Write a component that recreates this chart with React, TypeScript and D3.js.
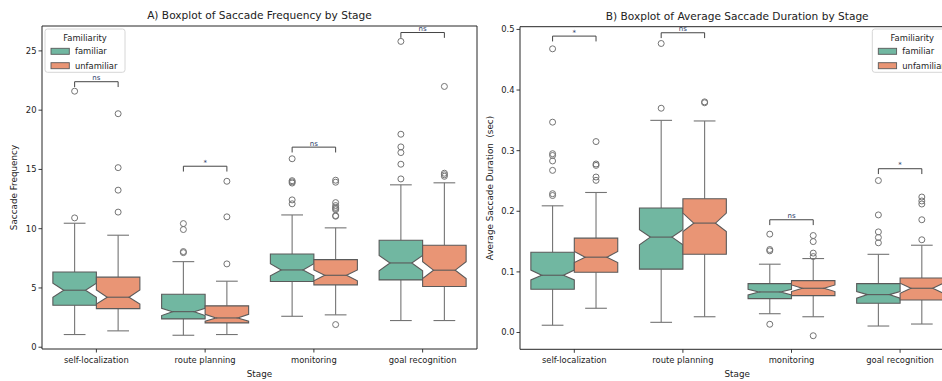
import React from 'react';
import * as d3 from 'd3';

const stages = ['self-localization', 'route planning', 'monitoring', 'goal recognition'];
const groups = ['familiar', 'unfamiliar'];
const groupColors = ['#71b7a1', '#e99575'];

// each box: [whiskerLow, q1, notchLow, median, notchHigh, q3, whiskerHigh]
const freqFamiliar = [
  [1.07, 3.54, 4.22, 4.81, 5.4, 6.35, 10.46],
  [1.01, 2.39, 2.67, 3.0, 3.29, 4.47, 7.22],
  [2.61, 5.54, 6.02, 6.52, 7.05, 7.87, 11.16],
  [2.25, 5.68, 6.45, 7.11, 7.75, 9.03, 13.7],
];
const freqUnfamiliar = [
  [1.38, 3.26, 3.65, 4.22, 4.83, 5.91, 9.45],
  [1.07, 2.05, 2.2, 2.47, 2.78, 3.49, 5.57],
  [2.73, 5.26, 5.6, 6.07, 6.52, 7.39, 10.07],
  [2.25, 5.12, 5.8, 6.5, 7.22, 8.6, 13.87],
];
const freqFamiliarOutliers = [
  [10.91, 21.6],
  [10.43, 9.93, 8.07, 7.98],
  [15.9, 14.05, 13.95, 13.85, 12.43, 12.1],
  [25.8, 17.97, 16.9, 16.42, 15.44, 14.2],
];
const freqUnfamiliarOutliers = [
  [19.7, 15.15, 13.25, 11.4],
  [14.0, 11.0, 7.03],
  [14.09, 13.92, 12.2, 11.95, 11.8, 11.7, 11.6, 11.1, 11.05, 1.91],
  [22.0, 14.68, 14.55, 14.42],
];
const freqBrackets = [22.4, 15.27, 16.88, 26.55];
const freqLabels = ['ns', '*', 'ns', 'ns'];
const freqTicks = [0, 5, 10, 15, 20, 25];

const durFamiliar = [
  [0.012, 0.0714, 0.0868, 0.0945, 0.103, 0.1325, 0.209],
  [0.0168, 0.1045, 0.1446, 0.1574, 0.1694, 0.2053, 0.35],
  [0.031, 0.0559, 0.062, 0.0669, 0.0714, 0.0807, 0.1127],
  [0.0107, 0.0483, 0.0565, 0.0625, 0.0675, 0.0807, 0.129],
];
const durUnfamiliar = [
  [0.04, 0.0995, 0.1154, 0.1243, 0.1336, 0.1557, 0.231],
  [0.026, 0.1292, 0.1667, 0.1805, 0.197, 0.2207, 0.349],
  [0.026, 0.0608, 0.0675, 0.073, 0.0785, 0.0856, 0.122],
  [0.014, 0.0537, 0.0648, 0.073, 0.0813, 0.09, 0.144],
];
const durFamiliarOutliers = [
  [0.468, 0.347, 0.295, 0.292, 0.283, 0.2675, 0.229, 0.226],
  [0.4768, 0.37],
  [0.1623, 0.1369, 0.1347, 0.0136],
  [0.2507, 0.194, 0.166, 0.1567, 0.148],
];
const durUnfamiliarOutliers = [
  [0.315, 0.278, 0.2757, 0.2565, 0.251],
  [0.3805, 0.379],
  [0.16, 0.15, 0.131, 0.1253, -0.0053],
  [0.2235, 0.217, 0.212, 0.186, 0.153],
];
const durBrackets = [0.489, 0.4945, 0.186, 0.2702];
const durLabels = ['*', 'ns', 'ns', '*'];
const durTicks = [0, 0.1, 0.2, 0.3, 0.4, 0.5];

const FONT = 'DejaVu Sans, sans-serif';
const BOX_LINE = '#5a5a5a';
const WHISK_LINE = '#747474';

type PanelProps = {
  left: number; right: number; top: number; bottom: number;
  domain: [number, number];
  ticks: number[]; tickFmt: (v: number) => string;
  boxes: number[][][]; outliers: number[][][];
  brackets: number[]; labels: string[]; legLen: number;
  title: string; yLabel: string; yLabelX: number;
  legendX: number; showRight: boolean;
};

const Panel = (p: PanelProps) => {
  const x = d3.scaleBand().domain(stages).range([p.left, p.right]).padding(0);
  const y = d3.scaleLinear().domain(p.domain).range([p.bottom, p.top]);
  const bw = x.bandwidth();
  const boxW = bw * 0.4;
  const centre = (s: string, g: number) => (x(s) as number) + bw / 2 + (g === 0 ? -0.2 : 0.2) * bw;

  return (
    <g>
      {stages.map((s, si) =>
        groups.map((g, gi) => {
          const [wl, q1, cl, med, ch, q3, wh] = p.boxes[gi][si];
          const cx = centre(s, gi);
          const l = cx - boxW / 2, r = cx + boxW / 2;
          const cl2 = cx - boxW / 4, cr2 = cx + boxW / 4;
          const pts: [number, number][] = [
            [l, y(q1)], [r, y(q1)], [r, y(cl)], [cr2, y(med)], [r, y(ch)], [r, y(q3)],
            [l, y(q3)], [l, y(ch)], [cl2, y(med)], [l, y(cl)],
          ];
          return (
            <g key={s + g}>
              <line x1={cx} x2={cx} y1={y(q1)} y2={y(wl)} stroke={WHISK_LINE} strokeWidth={1.1} />
              <line x1={cx} x2={cx} y1={y(q3)} y2={y(wh)} stroke={WHISK_LINE} strokeWidth={1.1} />
              <line x1={cl2} x2={cr2} y1={y(wl)} y2={y(wl)} stroke={WHISK_LINE} strokeWidth={1.1} />
              <line x1={cl2} x2={cr2} y1={y(wh)} y2={y(wh)} stroke={WHISK_LINE} strokeWidth={1.1} />
              <polygon points={pts.map(d => d.join(',')).join(' ')} fill={groupColors[gi]} stroke={BOX_LINE} strokeWidth={1.1} />
              <line x1={cl2} x2={cr2} y1={y(med)} y2={y(med)} stroke={BOX_LINE} strokeWidth={1.1} />
              {p.outliers[gi][si].map((v, k) => (
                <circle key={k} cx={cx} cy={y(v)} r={3} fill="none" stroke={WHISK_LINE} strokeWidth={1} />
              ))}
            </g>
          );
        })
      )}
      {stages.map((s, si) => {
        const a = centre(s, 0), b = centre(s, 1);
        const yy = y(p.brackets[si]);
        const yl = y(p.brackets[si] - p.legLen);
        return (
          <g key={'br' + s}>
            <path d={`M${a},${yl}V${yy}H${b}V${yl}`} fill="none" stroke="#444" strokeWidth={1} />
            <text x={(a + b) / 2} y={yy - 1.5} textAnchor="middle" fontSize={7} fill="#2a3a66" fontFamily={FONT}>{p.labels[si]}</text>
          </g>
        );
      })}
      {/* spines */}
      <path d={`M${p.left},${p.top}V${p.bottom}H${p.right}`} fill="none" stroke="#262626" strokeWidth={1} />
      <line x1={p.left} x2={p.right} y1={p.top} y2={p.top} stroke="#262626" strokeWidth={1} />
      {p.showRight && <line x1={p.right} x2={p.right} y1={p.top} y2={p.bottom} stroke="#262626" strokeWidth={1} />}
      {/* y ticks */}
      {p.ticks.map(t => (
        <g key={'yt' + t}>
          <line x1={p.left - 3.5} x2={p.left} y1={y(t)} y2={y(t)} stroke="#262626" strokeWidth={0.9} />
          <text x={p.left - 5.5} y={y(t)} dy="0.35em" textAnchor="end" fontSize={8.4} fill="#222" fontFamily={FONT}>{p.tickFmt(t)}</text>
        </g>
      ))}
      {/* x ticks */}
      {stages.map(s => {
        const cx = (x(s) as number) + bw / 2;
        return (
          <g key={'xt' + s}>
            <line x1={cx} x2={cx} y1={p.bottom} y2={p.bottom + 3.5} stroke="#262626" strokeWidth={0.9} />
            <text x={cx} y={p.bottom + 13.5} textAnchor="middle" fontSize={8.4} fill="#222" fontFamily={FONT}>{s}</text>
          </g>
        );
      })}
      <text x={(p.left + p.right) / 2} y={p.bottom + 28} textAnchor="middle" fontSize={8.8} fill="#222" fontFamily={FONT}>Stage</text>
      <text transform={`translate(${p.yLabelX},${(p.top + p.bottom) / 2}) rotate(-90)`} textAnchor="middle" fontSize={8.8} fill="#222" fontFamily={FONT} style={{ whiteSpace: 'pre' }}>{p.yLabel}</text>
      <text x={(p.left + p.right) / 2} y={p.top - 7} textAnchor="middle" fontSize={10.6} fill="#222" fontFamily={FONT}>{p.title}</text>
      {/* legend */}
      <g transform={`translate(${p.legendX},29)`}>
        <rect x={0} y={0} width={80} height={43.3} rx={2.5} fill="#fff" fillOpacity={0.85} stroke="#d6d6d6" strokeWidth={1} />
        <text x={40} y={9} dy="0.35em" textAnchor="middle" fontSize={8.4} fill="#222" fontFamily={FONT}>Familiarity</text>
        {groups.map((g, gi) => (
          <g key={'lg' + g} transform={`translate(0,${22.3 + gi * 14.4})`}>
            <rect x={6} y={-3} width={18.3} height={6} fill={groupColors[gi]} stroke={BOX_LINE} strokeWidth={0.9} />
            <text x={30} y={0} dy="0.35em" fontSize={8.4} fill="#222" fontFamily={FONT}>{g}</text>
          </g>
        ))}
      </g>
    </g>
  );
};

export default function App() {
  return (
    <svg width={942} height={381} style={{ position: 'absolute', left: 0, top: 0, background: '#fff' }}>
      <rect width={942} height={381} fill="#fff" />
      <Panel
        left={42} right={477} top={26} bottom={349}
        domain={[-0.15, 27.1]} ticks={freqTicks} tickFmt={v => String(v)}
        boxes={[freqFamiliar, freqUnfamiliar]} outliers={[freqFamiliarOutliers, freqUnfamiliarOutliers]}
        brackets={freqBrackets} labels={freqLabels} legLen={0.45}
        title="A) Boxplot of Saccade Frequency by Stage" yLabel="Saccade Frequency" yLabelX={17}
        legendX={45} showRight={true}
      />
      <Panel
        left={520} right={954.4} top={26.7} bottom={349.3}
        domain={[-0.0277, 0.5045]} ticks={durTicks} tickFmt={d3.format('.1f')}
        boxes={[durFamiliar, durUnfamiliar]} outliers={[durFamiliarOutliers, durUnfamiliarOutliers]}
        brackets={durBrackets} labels={durLabels} legLen={0.0088}
        title="B) Boxplot of Average Saccade Duration by Stage" yLabel="Average Saccade Duration  (sec)" yLabelX={493}
        legendX={872.3} showRight={false}
      />
    </svg>
  );
}
